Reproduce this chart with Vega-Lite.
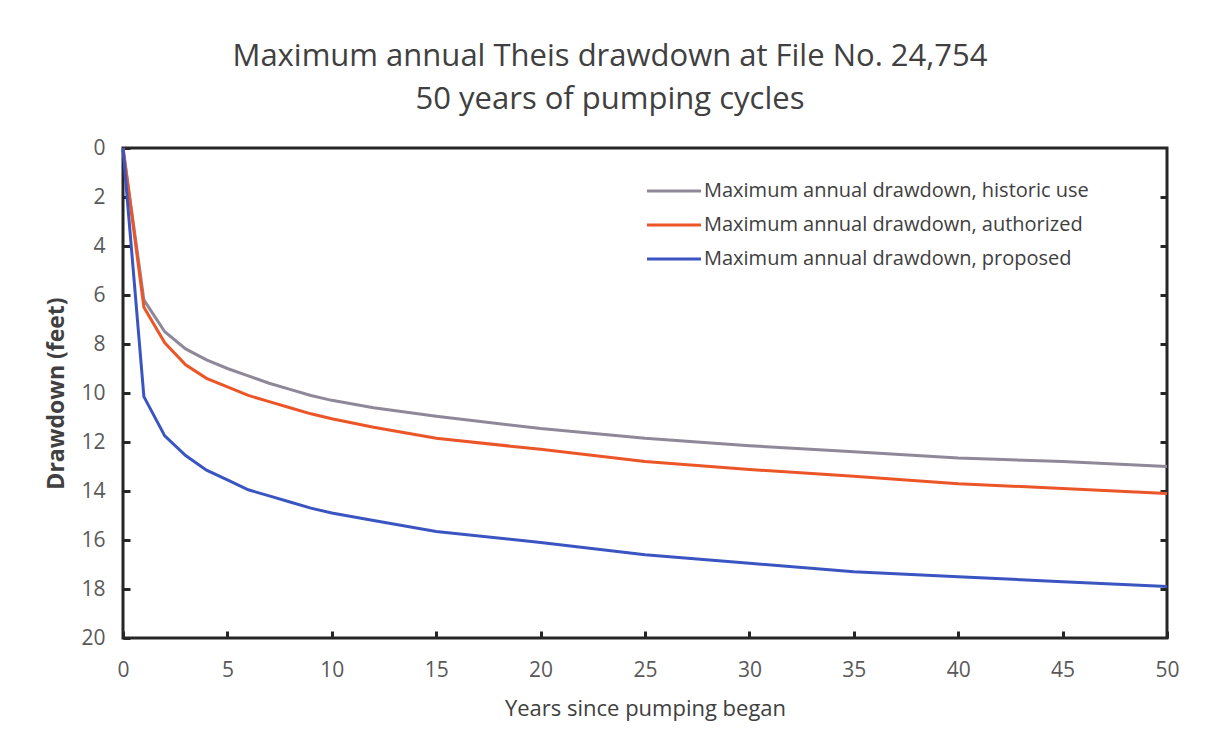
{
  "$schema": "https://vega.github.io/schema/vega-lite/v6.json",
  "autosize": {"type": "none"},
  "width": 1044,
  "height": 490,
  "padding": {"left": 123, "top": 148, "right": 40, "bottom": 115},
  "background": "white",
  "config": {
    "font": "Open Sans",
    "view": {"stroke": "#262626", "strokeWidth": 3},
    "axis": {"grid": false, "domain": false, "labelColor": "#595959", "titleColor": "#404040", "labelFont": "Open Sans", "titleFont": "Open Sans", "labelFlush": false}
  },
  "title": {
    "text": ["Maximum annual Theis drawdown at File No. 24,754", "50 years of pumping cycles"],
    "font": "Open Sans",
    "fontSize": 31,
    "fontWeight": "normal",
    "color": "#404040",
    "anchor": "middle",
    "dx": -35,
    "offset": 21,
    "lineHeight": 43
  },
  "data": {
    "values": [
      {"year": 0, "series": "Maximum annual drawdown, historic use", "dd": 0},
      {"year": 1, "series": "Maximum annual drawdown, historic use", "dd": 6.2},
      {"year": 2, "series": "Maximum annual drawdown, historic use", "dd": 7.5},
      {"year": 3, "series": "Maximum annual drawdown, historic use", "dd": 8.2},
      {"year": 4, "series": "Maximum annual drawdown, historic use", "dd": 8.65},
      {"year": 5, "series": "Maximum annual drawdown, historic use", "dd": 9.0},
      {"year": 6, "series": "Maximum annual drawdown, historic use", "dd": 9.3},
      {"year": 7, "series": "Maximum annual drawdown, historic use", "dd": 9.6},
      {"year": 8, "series": "Maximum annual drawdown, historic use", "dd": 9.85},
      {"year": 9, "series": "Maximum annual drawdown, historic use", "dd": 10.1},
      {"year": 10, "series": "Maximum annual drawdown, historic use", "dd": 10.3},
      {"year": 12, "series": "Maximum annual drawdown, historic use", "dd": 10.6},
      {"year": 15, "series": "Maximum annual drawdown, historic use", "dd": 10.95},
      {"year": 20, "series": "Maximum annual drawdown, historic use", "dd": 11.45},
      {"year": 25, "series": "Maximum annual drawdown, historic use", "dd": 11.85},
      {"year": 30, "series": "Maximum annual drawdown, historic use", "dd": 12.15},
      {"year": 35, "series": "Maximum annual drawdown, historic use", "dd": 12.4},
      {"year": 40, "series": "Maximum annual drawdown, historic use", "dd": 12.65},
      {"year": 45, "series": "Maximum annual drawdown, historic use", "dd": 12.8},
      {"year": 50, "series": "Maximum annual drawdown, historic use", "dd": 13.0},
      {"year": 0, "series": "Maximum annual drawdown, authorized", "dd": 0},
      {"year": 1, "series": "Maximum annual drawdown, authorized", "dd": 6.5},
      {"year": 2, "series": "Maximum annual drawdown, authorized", "dd": 7.95},
      {"year": 3, "series": "Maximum annual drawdown, authorized", "dd": 8.85},
      {"year": 4, "series": "Maximum annual drawdown, authorized", "dd": 9.4},
      {"year": 5, "series": "Maximum annual drawdown, authorized", "dd": 9.75},
      {"year": 6, "series": "Maximum annual drawdown, authorized", "dd": 10.1},
      {"year": 7, "series": "Maximum annual drawdown, authorized", "dd": 10.35},
      {"year": 8, "series": "Maximum annual drawdown, authorized", "dd": 10.6},
      {"year": 9, "series": "Maximum annual drawdown, authorized", "dd": 10.85},
      {"year": 10, "series": "Maximum annual drawdown, authorized", "dd": 11.05},
      {"year": 12, "series": "Maximum annual drawdown, authorized", "dd": 11.4},
      {"year": 15, "series": "Maximum annual drawdown, authorized", "dd": 11.85},
      {"year": 20, "series": "Maximum annual drawdown, authorized", "dd": 12.3},
      {"year": 25, "series": "Maximum annual drawdown, authorized", "dd": 12.8},
      {"year": 30, "series": "Maximum annual drawdown, authorized", "dd": 13.12},
      {"year": 35, "series": "Maximum annual drawdown, authorized", "dd": 13.4},
      {"year": 40, "series": "Maximum annual drawdown, authorized", "dd": 13.7},
      {"year": 45, "series": "Maximum annual drawdown, authorized", "dd": 13.9},
      {"year": 50, "series": "Maximum annual drawdown, authorized", "dd": 14.1},
      {"year": 0, "series": "Maximum annual drawdown, proposed", "dd": 0},
      {"year": 1, "series": "Maximum annual drawdown, proposed", "dd": 10.15},
      {"year": 2, "series": "Maximum annual drawdown, proposed", "dd": 11.75},
      {"year": 3, "series": "Maximum annual drawdown, proposed", "dd": 12.55},
      {"year": 4, "series": "Maximum annual drawdown, proposed", "dd": 13.15},
      {"year": 5, "series": "Maximum annual drawdown, proposed", "dd": 13.55},
      {"year": 6, "series": "Maximum annual drawdown, proposed", "dd": 13.95},
      {"year": 7, "series": "Maximum annual drawdown, proposed", "dd": 14.2},
      {"year": 8, "series": "Maximum annual drawdown, proposed", "dd": 14.45},
      {"year": 9, "series": "Maximum annual drawdown, proposed", "dd": 14.7},
      {"year": 10, "series": "Maximum annual drawdown, proposed", "dd": 14.9},
      {"year": 12, "series": "Maximum annual drawdown, proposed", "dd": 15.2},
      {"year": 15, "series": "Maximum annual drawdown, proposed", "dd": 15.65},
      {"year": 20, "series": "Maximum annual drawdown, proposed", "dd": 16.1},
      {"year": 25, "series": "Maximum annual drawdown, proposed", "dd": 16.6},
      {"year": 30, "series": "Maximum annual drawdown, proposed", "dd": 16.95},
      {"year": 35, "series": "Maximum annual drawdown, proposed", "dd": 17.3},
      {"year": 40, "series": "Maximum annual drawdown, proposed", "dd": 17.5},
      {"year": 45, "series": "Maximum annual drawdown, proposed", "dd": 17.7},
      {"year": 50, "series": "Maximum annual drawdown, proposed", "dd": 17.9}
    ]
  },
  "layer": [
    {
      "mark": {"type": "line", "strokeWidth": 3},
      "encoding": {
        "x": {
          "field": "year", "type": "quantitative",
          "scale": {"domain": [0, 50], "nice": false},
          "axis": {"values": [0,5,10,15,20,25,30,35,40,45,50], "tickSize": -7, "tickWidth": 3, "tickColor": "#262626", "labelPadding": 28, "labelFontSize": 21, "title": "Years since pumping began", "titleFontSize": 22, "titleFontWeight": "normal", "titlePadding": 18}
        },
        "y": {
          "field": "dd", "type": "quantitative",
          "scale": {"domain": [0, 20], "reverse": true, "nice": false},
          "axis": {"values": [0,2,4,6,8,10,12,14,16,18,20], "tickSize": -7, "tickWidth": 3, "tickColor": "#262626", "labelPadding": 25, "labelFontSize": 21, "title": "Drawdown (feet)", "titleFontSize": 23, "titleFontWeight": "bold", "titleColor": "#404040", "titlePadding": 12}
        },
        "color": {
          "field": "series", "type": "nominal",
          "scale": {
            "domain": ["Maximum annual drawdown, historic use", "Maximum annual drawdown, authorized", "Maximum annual drawdown, proposed"],
            "range": ["#8e8898", "#ec5528", "#3a55c2"]
          },
          "legend": {
            "title": null, "orient": "none", "legendX": 536, "legendY": 28,
            "symbolType": "M-2,0H2", "symbolSize": 729, "symbolStrokeWidth": 3,
            "labelFontSize": 20, "labelColor": "#404040", "labelFont": "Open Sans", "labelLimit": 600,
            "rowPadding": 9, "labelOffset": 15
          }
        }
      }
    },
    {
      "mark": {"type": "line", "strokeOpacity": 0},
      "encoding": {
        "x": {"field": "year", "type": "quantitative"},
        "y": {
          "field": "dd", "type": "quantitative",
          "scale": {"domain": [0, 20], "reverse": true, "nice": false},
          "axis": {"orient": "right", "values": [2,4,6,8,10,12,14,16,18], "tickSize": -7, "tickWidth": 3, "tickColor": "#262626", "labels": false, "title": null}
        }
      }
    }
  ],
  "resolve": {"axis": {"y": "independent"}}
}
